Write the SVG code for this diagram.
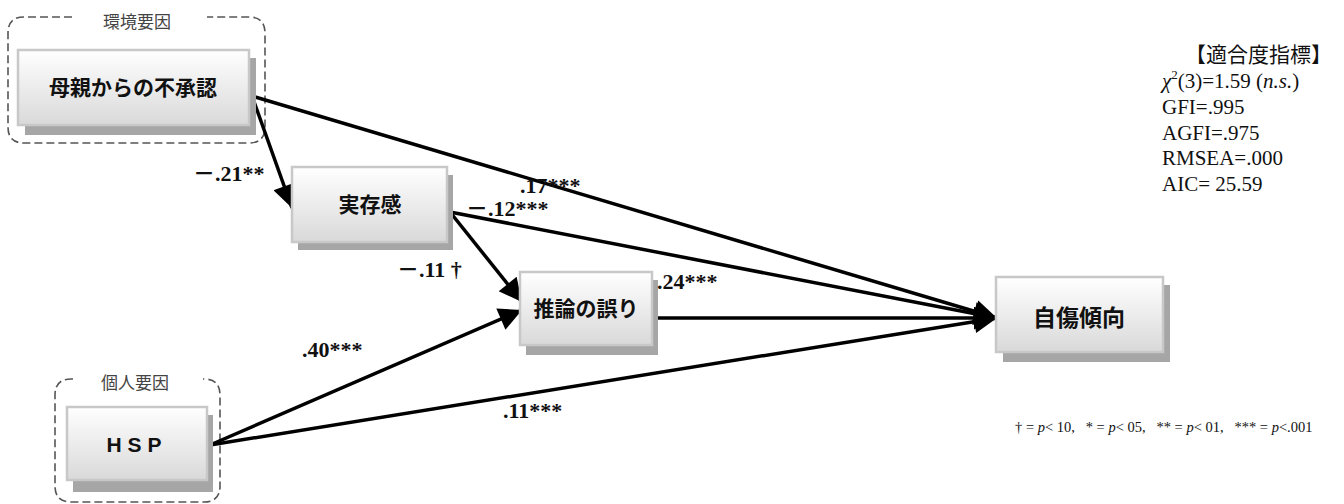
<svg xmlns="http://www.w3.org/2000/svg" width="1344" height="504" viewBox="0 0 1344 504">
<style>
.box{fill:url(#g);stroke:#c8c8c8;stroke-width:2.5}
.sh{fill:#a6a6a6}
.nt{font-family:"Liberation Sans","Noto Sans CJK JP",sans-serif;font-weight:bold;font-size:21px;fill:#111;text-anchor:middle}
.grp{fill:none;stroke:#555;stroke-width:1.6;stroke-dasharray:8 4}
.gl{font-family:"Noto Sans CJK JP",sans-serif;font-size:17px;fill:#444;text-anchor:middle}
.lb{font-family:"Liberation Serif","Noto Sans CJK JP",serif;font-weight:bold;font-size:22px;fill:#111}
.ed{stroke:#000;stroke-width:3.5;fill:none;marker-end:url(#ah)}
.fit{font-family:"Liberation Serif","Noto Sans CJK JP",serif;font-size:21px;fill:#111}
.fn{font-family:"Liberation Serif","Noto Sans CJK JP",serif;font-size:14.5px;fill:#111}
</style>
<defs>
<linearGradient id="g" x1="0" y1="0" x2="0" y2="1">
<stop offset="0" stop-color="#ffffff"/>
<stop offset="1" stop-color="#d9d9d9"/>
</linearGradient>
<marker id="ah" viewBox="0 0 10 10" refX="10" refY="5" markerUnits="userSpaceOnUse" markerWidth="25" markerHeight="23" orient="auto">
<path d="M0,0 L10,5 L0,10 z" fill="#000"/>
</marker>
</defs>
<rect width="1344" height="504" fill="#fff"/>

<g id="group-env">
<path class="grp" d="M72,17 H24 Q8,17 8,33 V127 Q8,143 24,143 H249 Q265,143 265,127 V33 Q265,17 249,17 H207"/>
<text class="gl" x="137" y="28">環境要因</text>
</g>
<g id="group-ind">
<path class="grp" d="M73,379 H71 Q55,379 55,395 V486 Q55,502 71,502 H204 Q220,502 220,486 V395 Q220,379 204,379 H203"/>
<text class="gl" x="135" y="389">個人要因</text>
</g>

<g id="connectors">
<line class="ed" x1="252" y1="96" x2="292" y2="208"/>
<line class="ed" x1="252" y1="96" x2="997" y2="318"/>
<line class="ed" x1="450" y1="212" x2="997" y2="318"/>
<line class="ed" x1="450" y1="212" x2="522" y2="302"/>
<line class="ed" x1="655" y1="318" x2="997" y2="318"/>
<line class="ed" x1="210" y1="445" x2="522" y2="310"/>
<line class="ed" x1="210" y1="445" x2="997" y2="318"/>
</g>

<g id="node-mother">
<rect class="sh" x="25" y="58" width="231" height="77"/>
<rect class="box" x="18" y="50" width="231" height="75"/>
<text class="nt" x="133" y="95">母親からの不承認</text>
</g>
<g id="node-existence">
<rect class="sh" x="298" y="175" width="155" height="75"/>
<rect class="box" x="292" y="167" width="155" height="75"/>
<text class="nt" x="370" y="212">実存感</text>
</g>
<g id="node-inference">
<rect class="sh" x="526" y="280" width="132" height="75"/>
<rect class="box" x="520" y="272" width="132" height="73"/>
<text class="nt" x="586" y="316">推論の誤り</text>
</g>
<g id="node-selfharm">
<rect class="sh" x="1003" y="285" width="167" height="77"/>
<rect class="box" x="996" y="277" width="167" height="75"/>
<text class="nt" x="1079" y="326" style="font-size:23px">自傷傾向</text>
</g>
<g id="node-hsp">
<rect class="sh" x="73" y="415" width="140" height="77"/>
<rect class="box" x="67" y="407" width="140" height="73"/>
<text class="nt" x="137" y="452" style="letter-spacing:6px">HSP</text>
</g>

<g id="labels">
<text class="lb" x="193" y="181">－.21**</text>
<text class="lb" x="520" y="193">.17***</text>
<text class="lb" x="466" y="216">－.12***</text>
<text class="lb" x="397" y="277">－.11 †</text>
<text class="lb" x="657" y="289">.24***</text>
<text class="lb" x="302" y="357">.40***</text>
<text class="lb" x="503" y="418">.11***</text>
</g>

<g id="fit-index">
<text class="fit" x="1185" y="62">【適合度指標】</text>
<text class="fit" x="1162" y="88"><tspan font-style="italic">χ</tspan><tspan font-size="13" dy="-9">2</tspan><tspan dy="9">(3)=1.59 (</tspan><tspan font-style="italic">n.s.</tspan>)</text>
<text class="fit" x="1162" y="114">GFI=.995</text>
<text class="fit" x="1162" y="140">AGFI=.975</text>
<text class="fit" x="1162" y="165">RMSEA=.000</text>
<text class="fit" x="1162" y="191">AIC= 25.59</text>
</g>

<g id="footnote">
<text class="fn" x="1015" y="432" xml:space="preserve">† = <tspan font-style="italic">p</tspan>&lt; 10,   * = <tspan font-style="italic">p</tspan>&lt; 05,   ** = <tspan font-style="italic">p</tspan>&lt; 01,   *** = <tspan font-style="italic">p</tspan>&lt;.001</text>
</g>
</svg>
